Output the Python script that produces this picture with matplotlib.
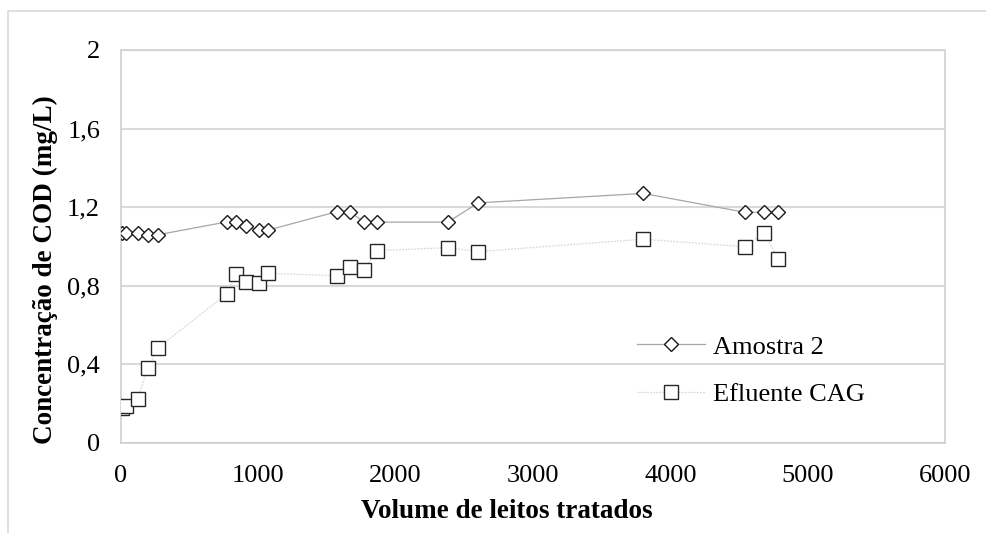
import matplotlib.pyplot as plt
from matplotlib.patches import Rectangle
from matplotlib.ticker import FuncFormatter

plt.rcParams['font.family'] = ['Liberation Serif', 'DejaVu Serif']

# volume de leitos tratados
volume = [10, 35, 122, 195, 270, 770, 836, 908, 1002, 1070,
          1570, 1668, 1768, 1864, 2379, 2602, 3803, 4544, 4684, 4786]
# concentracao (mg/L)
amostra2 = [1.07, 1.07, 1.07, 1.06, 1.06, 1.125, 1.125, 1.105, 1.083, 1.083,
            1.177, 1.177, 1.124, 1.124, 1.124, 1.222, 1.27, 1.174, 1.174, 1.174]
efluente_cag = [0.18, 0.19, 0.225, 0.38, 0.485, 0.758, 0.86, 0.818, 0.813, 0.864,
                0.851, 0.894, 0.88, 0.979, 0.994, 0.974, 1.037, 0.999, 1.07, 0.936]
xticks = [0, 1000, 2000, 3000, 4000, 5000, 6000]
yticks = [0, 0.4, 0.8, 1.2, 1.6, 2]

fig = plt.figure(figsize=(9.86, 5.33), dpi=100)
ax = fig.add_axes([0.1227, 0.1689, 0.8357, 0.7373])

# outer chart frame (only top/left visible)
fig.patches.append(Rectangle((8/986, -0.1), 1.2, 1 - 11/533 + 0.1,
                             transform=fig.transFigure, fill=False,
                             edgecolor='#d9d9d9', linewidth=1.2))

ax.plot(volume, amostra2, color='#a6a6a6', linewidth=0.9, marker='D',
        markersize=7, markerfacecolor='white', markeredgecolor='#1a1a1a',
        markeredgewidth=1.0, label='Amostra 2', zorder=3)
ax.plot(volume, efluente_cag, color='#d9d9d9', linewidth=0.9, linestyle=(0, (1.5, 1)),
        marker='s', markersize=10, markerfacecolor='white', markeredgecolor='#262626',
        markeredgewidth=1.0, label='Efluente CAG', zorder=3)

ax.set_xlim(0, 6000)
ax.set_ylim(0, 2)
ax.set_xticks(xticks)
ax.set_yticks(yticks)
ax.yaxis.set_major_formatter(FuncFormatter(lambda v, p: ('%g' % v).replace('.', ',')))
ax.tick_params(length=0, labelsize=19, pad=16, colors='black')
ax.tick_params(axis='y', pad=15)
ax.grid(axis='y', color='#d9d9d9', linewidth=1.5)
ax.set_axisbelow(True)
for s in ax.spines.values():
    s.set_color('#d0d0d0')
    s.set_linestyle((0, (1, 1)))
    s.set_linewidth(1.2)

ax.set_xlabel('Volume de leitos tratados', fontsize=19.5, fontweight='bold')
ax.set_ylabel('Concentração de COD (mg/L)', fontsize=19.5, fontweight='bold')
ax.xaxis.set_label_coords(0.468, -0.142)
ax.yaxis.set_label_coords(-0.077, 0.44)

ax.legend(loc='upper left', bbox_to_anchor=(0.610, 0.308), frameon=False, borderpad=0,
          fontsize=19, handlelength=2.6, labelspacing=0.9, handletextpad=0.3)

fig.savefig('out.png', dpi=100)
